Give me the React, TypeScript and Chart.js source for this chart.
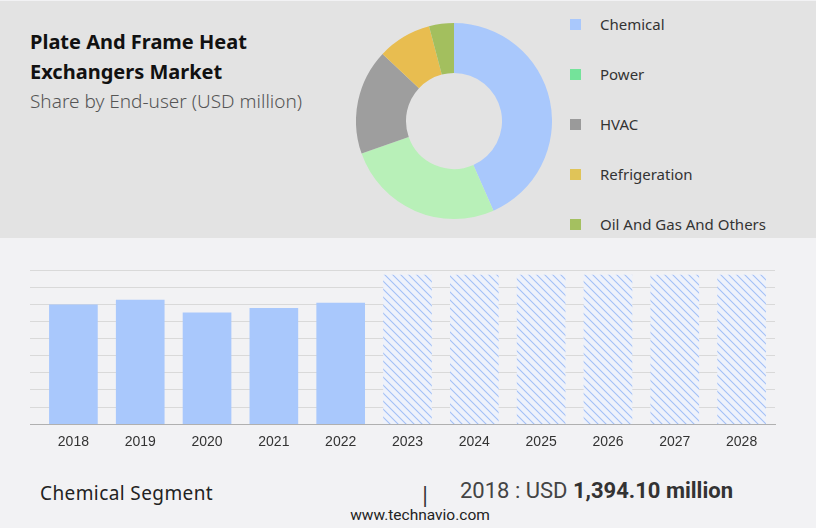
import React, { useEffect, useRef } from 'react';
import { Chart, registerables } from 'chart.js';

Chart.register(...registerables);

// donut: share by end-user
const segments = ['Chemical', 'Power', 'HVAC', 'Refrigeration', 'Oil And Gas And Others'];
const shares = [43.4, 26.2, 17.4, 8.9, 4.1];
const donutColors = ['#a9c8fc', '#b8f0b8', '#9e9e9e', '#e8bd50', '#a3bf5e'];
const legendColors = ['#a9c8fc', '#74e39a', '#9a9a9a', '#e0c458', '#a4c060'];

// bars: chemical segment, USD million
const years = ['2018', '2019', '2020', '2021', '2022', '2023', '2024', '2025', '2026', '2027', '2028'];
const historic = [1394.1, 1448, 1299, 1354, 1413];
const forecast = [1741, 1741, 1741, 1741, 1741, 1741];
const yMax = 1800;
const yStep = 200;

const makeHatch = (): CanvasPattern | string => {
  const s = 8;
  const c = document.createElement('canvas');
  c.width = s;
  c.height = s;
  const g = c.getContext('2d');
  if (!g) return '#eef2fa';
  g.fillStyle = '#eef2fb';
  g.fillRect(0, 0, s, s);
  g.strokeStyle = '#a2c0f6';
  g.lineWidth = 1.1;
  g.beginPath();
  g.moveTo(0, 0);
  g.lineTo(s, s);
  g.moveTo(-1, s - 1);
  g.lineTo(1, s + 1);
  g.moveTo(s - 1, -1);
  g.lineTo(s + 1, 1);
  g.stroke();
  return g.createPattern(c, 'repeat') || '#eef2fa';
};

const App: React.FC = () => {
  const donutRef = useRef<HTMLCanvasElement>(null);
  const barRef = useRef<HTMLCanvasElement>(null);

  useEffect(() => {
    if (!donutRef.current || !barRef.current) return;

    const donut = new Chart(donutRef.current, {
      type: 'doughnut',
      data: {
        labels: segments,
        datasets: [{
          data: shares,
          backgroundColor: donutColors,
          borderWidth: 0,
        }],
      },
      options: {
        responsive: false,
        animation: false,
        cutout: '49%',
        plugins: { legend: { display: false }, tooltip: { enabled: false } },
      },
    });

    const hatch = makeHatch();
    const values = [...historic, ...forecast];

    const bars = new Chart(barRef.current, {
      type: 'bar',
      data: {
        labels: years,
        datasets: [{
          data: values,
          backgroundColor: values.map((_, i) => (i < historic.length ? '#a9c8fc' : hatch)),
          borderWidth: 0,
          barThickness: 48,
        }],
      },
      options: {
        responsive: false,
        animation: false,
        layout: { padding: { left: 30, right: 41, top: 20, bottom: 11 } },
        plugins: { legend: { display: false }, tooltip: { enabled: false } },
        scales: {
          x: {
            grid: { display: false, drawTicks: false },
            border: { display: true, color: '#b0b0b0', width: 1 },
            ticks: {
              padding: 10,
              color: '#333',
              font: { family: '"Liberation Sans", Arial, sans-serif', size: 14 },
            },
          },
          y: {
            min: 0,
            max: yMax,
            ticks: { display: false, stepSize: yStep },
            border: { display: false },
            grid: {
              drawTicks: true,
              tickLength: 10,
              color: (ctx: any) => (ctx.tick && ctx.tick.value === 0 ? '#b0b0b0' : '#d9d9d9'),
            },
          },
        },
      },
    });

    return () => {
      donut.destroy();
      bars.destroy();
    };
  }, []);

  return (
    <div style={{ position: 'absolute', left: 0, top: 0, width: 816, height: 528, background: '#f2f2f4', overflow: 'hidden', fontFamily: '"Noto Sans", sans-serif' }}>
      <div style={{ position: 'absolute', left: 0, top: 1, width: 816, height: 237, background: '#e3e3e3' }} />
      <div style={{ position: 'absolute', left: 30, top: 27, fontSize: 20, fontWeight: 700, lineHeight: '30px', color: '#111', whiteSpace: 'nowrap' }}>
        Plate And Frame Heat<br />Exchangers Market
      </div>
      <div style={{ position: 'absolute', left: 30, top: 88, fontSize: 19, color: '#555', whiteSpace: 'nowrap', fontWeight: 300 }}>
        Share by End-user (USD million)
      </div>
      <canvas ref={donutRef} width={196} height={196} style={{ position: 'absolute', left: 356, top: 23 }} />
      {segments.map((name, i) => (
        <div key={name} style={{ position: 'absolute', left: 570, top: 24 + i * 50 - 10, height: 20, display: 'flex', alignItems: 'center', whiteSpace: 'nowrap' }}>
          <span style={{ display: 'inline-block', width: 11, height: 11, background: legendColors[i] }} />
          <span style={{ marginLeft: 19, fontSize: 15, color: '#333' }}>{name}</span>
        </div>
      ))}
      <canvas ref={barRef} width={816} height={222} style={{ position: 'absolute', left: 0, top: 250 }} />
      <div style={{ position: 'absolute', left: 40, top: 480, fontSize: 19, color: '#222', whiteSpace: 'nowrap', letterSpacing: 0.4 }}>Chemical Segment</div>
      <div style={{ position: 'absolute', left: 419, top: 478, fontSize: 22, color: '#333' }}>|</div>
      <div style={{ position: 'absolute', left: 460, top: 478, fontSize: 22, color: '#444', whiteSpace: 'nowrap', fontFamily: 'Roboto, sans-serif' }}>
        2018 : USD <b style={{ color: '#333' }}>1,394.10 million</b>
      </div>
      <div style={{ position: 'absolute', left: 0, width: 840, top: 506, textAlign: 'center', fontSize: 15.5, color: '#222', fontFamily: 'Roboto, sans-serif' }}>
        www.technavio.com
      </div>
    </div>
  );
};

export default App;
